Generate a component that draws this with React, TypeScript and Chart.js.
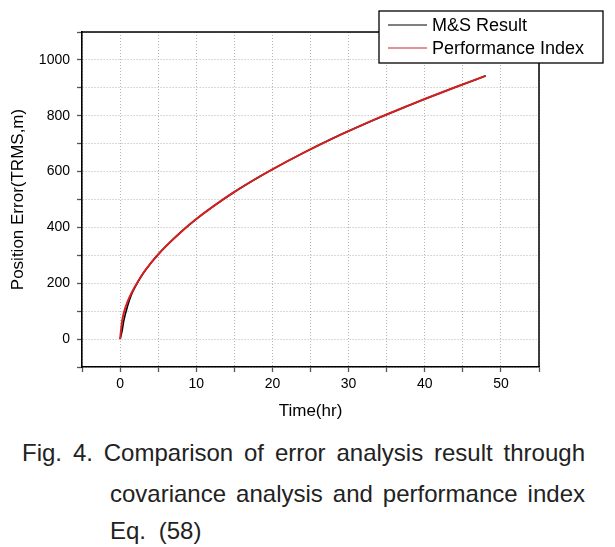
import React, { useEffect, useRef } from "react";
import { Chart, registerables } from "chart.js";

Chart.register(...registerables);

const timeHr = [0, 0.25, 0.5, 1, 1.5, 2, 3, 4, 5, 6, 8, 10, 12, 15, 18, 20, 24, 28, 30, 34, 38, 40, 44, 48];
const perfIndex = [0, 62, 95, 135, 165, 190, 235, 271, 303, 332, 384, 430, 471, 527, 577, 608, 666, 720, 745, 793, 838, 860, 902, 943];
const msResult = [0, 28, 68, 120, 160, 188, 234, 271, 303, 332, 384, 430, 471, 527, 577, 608, 666, 720, 745, 793, 838, 860, 902, 943];
const seriesNames = ["M&S Result", "Performance Index"];
const xTickLabels = [0, 10, 20, 30, 40, 50];
const yTickLabels = [0, 200, 400, 600, 800, 1000];
const captionLines = [
  "Fig. 4. Comparison of error analysis result through",
  "covariance analysis and performance index",
  "Eq. (58)",
];

const FONT = "'Liberation Sans', Arial, sans-serif";

export default function App() {
  const ref = useRef<HTMLCanvasElement>(null);

  useEffect(() => {
    if (!ref.current) return;
    const frame = {
      id: "frameLegend",
      afterDraw(chart: any) {
        const { ctx, chartArea } = chart;
        ctx.save();
        ctx.strokeStyle = "#000";
        ctx.lineWidth = 1.5;
        ctx.beginPath();
        ctx.moveTo(chartArea.left, chartArea.top);
        ctx.lineTo(chartArea.right, chartArea.top);
        ctx.lineTo(chartArea.right, chartArea.bottom);
        ctx.stroke();
        // legend box
        const bx = 379, by = 11, bw = 224, bh = 52;
        ctx.fillStyle = "#fff";
        ctx.fillRect(bx, by, bw, bh);
        ctx.lineWidth = 1.3;
        ctx.strokeStyle = "#000";
        ctx.strokeRect(bx, by, bw, bh);
        const colors = ["#000000", "#d42020"];
        ctx.font = `18px ${FONT}`;
        ctx.textBaseline = "middle";
        seriesNames.forEach((name, i) => {
          const y = 25 + i * 23;
          ctx.strokeStyle = colors[i];
          ctx.lineWidth = 1;
          ctx.beginPath();
          ctx.moveTo(388, y);
          ctx.lineTo(427, y);
          ctx.stroke();
          ctx.fillStyle = "#000";
          ctx.fillText(name, 432, y + 1);
        });
        ctx.restore();
      },
    };

    const chart = new Chart(ref.current, {
      type: "line",
      data: {
        datasets: [
          {
            label: seriesNames[1],
            data: timeHr.map((t, i) => ({ x: t, y: perfIndex[i] })),
            borderColor: "#d42020",
            borderWidth: 2,
            pointRadius: 0,
            cubicInterpolationMode: "monotone",
          },
          {
            label: seriesNames[0],
            data: timeHr.map((t, i) => ({ x: t, y: msResult[i] })),
            borderColor: "#000000",
            borderWidth: 1.6,
            pointRadius: 0,
            cubicInterpolationMode: "monotone",
          },
        ],
      },
      options: {
        animation: false,
        responsive: false,
        maintainAspectRatio: false,
        layout: { padding: { left: 0, top: 32, right: 76, bottom: 0 } },
        plugins: { legend: { display: false }, tooltip: { enabled: false } },
        scales: {
          x: {
            type: "linear",
            min: -5,
            max: 55,
            afterFit: (s: any) => {
              s.height = 53;
            },
            ticks: {
              stepSize: 5,
              autoSkip: false,
              maxRotation: 0,
              padding: 4,
              color: "#000",
              font: { family: FONT, size: 14 },
              callback: (v: any) => (xTickLabels.includes(Number(v)) ? String(v) : ""),
            },
            grid: {
              color: "#b4b4b4",
              lineWidth: 1,
              tickLength: 5,
              tickColor: "#555",
              tickWidth: 1.3,
              tickBorderDash: [],
            },
            border: { color: "#000", width: 1.6, dash: [1, 2] },
            title: {
              display: true,
              text: "Time(hr)",
              color: "#000",
              font: { family: FONT, size: 17, lineHeight: 1 },
              padding: { top: 0, bottom: 0 },
            },
          },
          y: {
            type: "linear",
            min: -100,
            max: 1100,
            afterFit: (s: any) => {
              s.width = 82;
            },
            ticks: {
              stepSize: 100,
              autoSkip: false,
              padding: 7,
              color: "#000",
              font: { family: FONT, size: 14 },
              callback: (v: any) => (yTickLabels.includes(Number(v)) ? String(v) : ""),
            },
            grid: {
              color: "#b4b4b4",
              lineWidth: 1,
              tickLength: 5,
              tickColor: "#555",
              tickWidth: 1.3,
              tickBorderDash: [],
            },
            border: { color: "#000", width: 1.6, dash: [1, 2] },
            title: {
              display: true,
              text: "Position Error(TRMS,m)",
              color: "#000",
              font: { family: FONT, size: 17, lineHeight: 1 },
              padding: { top: 10, bottom: 0 },
            },
          },
        },
      },
      plugins: [frame],
    } as any);
    return () => chart.destroy();
  }, []);

  const capStyle: React.CSSProperties = {
    position: "absolute",
    fontFamily: FONT,
    fontSize: 24,
    color: "#222",
    lineHeight: "30px",
    whiteSpace: "nowrap",
  };

  return (
    <div style={{ position: "absolute", left: 0, top: 0, width: 615, height: 547, background: "#fff" }}>
      <canvas ref={ref} width={615} height={420} style={{ position: "absolute", left: 0, top: 0, width: 615, height: 420 }} />
      <div style={{ ...capStyle, left: 22, top: 438, width: 563, textAlign: "justify", textAlignLast: "justify", whiteSpace: "normal" }}>
        {captionLines[0]}
      </div>
      <div style={{ ...capStyle, left: 110, top: 479, width: 475, textAlign: "justify", textAlignLast: "justify", whiteSpace: "normal" }}>
        {captionLines[1]}
      </div>
      <div style={{ ...capStyle, left: 110, top: 516, wordSpacing: 6 }}>{captionLines[2]}</div>
    </div>
  );
}
